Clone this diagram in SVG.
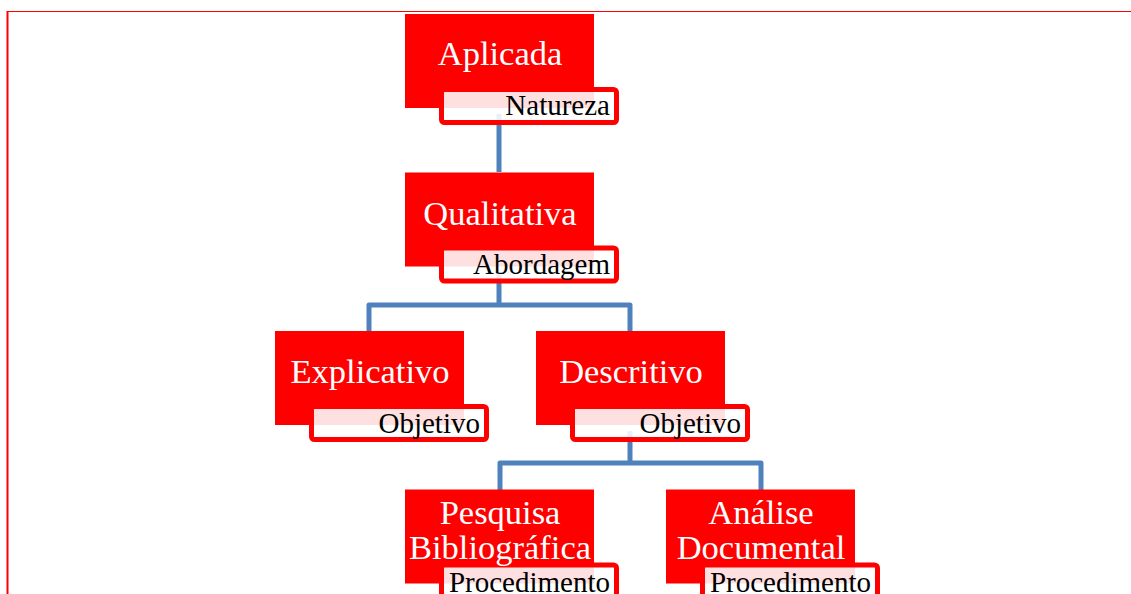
<svg xmlns="http://www.w3.org/2000/svg" width="1131" height="594" viewBox="0 0 1131 594">
<style>
.main{fill:#FF0000}
.lab{fill:#FFFFFF;fill-opacity:0.88;stroke:#FF0000;stroke-width:5}
.t{font-family:"Liberation Serif","Times New Roman",serif;font-size:34.5px;fill:#FFFFFF;text-anchor:middle}
.l{font-family:"Liberation Serif","Times New Roman",serif;font-size:29px;fill:#000000;text-anchor:end}
.c{fill:none;stroke:#4F81BD;stroke-width:5;stroke-linejoin:round}
</style>
<rect width="1131" height="594" fill="#FFFFFF"/>
<g id="frame">
<line x1="7" y1="11.5" x2="1131" y2="11.5" stroke="#FF0000" stroke-width="1.2"/>
<line x1="7.5" y1="11" x2="7.5" y2="594" stroke="#FF0000" stroke-width="2"/>
</g>
<g id="connectors">
<path class="c" d="M499 114 V172"/>
<path class="c" d="M499 273 V305 M369 331 V305 H630 V331"/>
<path class="c" d="M630 431 V463 M500 490 V463 H761 V490"/>
</g>
<g id="n-aplicada">
<rect class="main" x="405" y="14" width="189" height="94"/>
<rect class="lab" x="441.5" y="89.5" width="175" height="33" rx="3"/>
<text class="t" x="500" y="65">Aplicada</text>
<text class="l" x="610" y="115">Natureza</text>
</g>
<g id="n-qualitativa">
<rect class="main" x="405" y="172.5" width="189" height="94"/>
<rect class="lab" x="441.5" y="248" width="175" height="33" rx="3"/>
<text class="t" x="500" y="225">Qualitativa</text>
<text class="l" x="610" y="274">Abordagem</text>
</g>
<g id="n-explicativo">
<rect class="main" x="275" y="331" width="189" height="94"/>
<rect class="lab" x="311.5" y="406.5" width="175" height="33" rx="3"/>
<text class="t" x="370" y="383">Explicativo</text>
<text class="l" x="480" y="433">Objetivo</text>
</g>
<g id="n-descritivo">
<rect class="main" x="536" y="331" width="189" height="94"/>
<rect class="lab" x="572.5" y="406.5" width="175" height="33" rx="3"/>
<text class="t" x="631" y="383">Descritivo</text>
<text class="l" x="741" y="433">Objetivo</text>
</g>
<g id="n-pesquisa">
<rect class="main" x="405" y="489.5" width="189" height="94"/>
<rect class="lab" x="441.5" y="565" width="175" height="33" rx="3"/>
<text class="t" x="500" y="524">Pesquisa</text>
<text class="t" x="500" y="559">Bibliográfica</text>
<text class="l" x="610" y="592">Procedimento</text>
</g>
<g id="n-analise">
<rect class="main" x="666" y="489.5" width="189" height="94"/>
<rect class="lab" x="702.5" y="565" width="175" height="33" rx="3"/>
<text class="t" x="761" y="524">Análise</text>
<text class="t" x="761" y="559">Documental</text>
<text class="l" x="871" y="592">Procedimento</text>
</g>
</svg>
